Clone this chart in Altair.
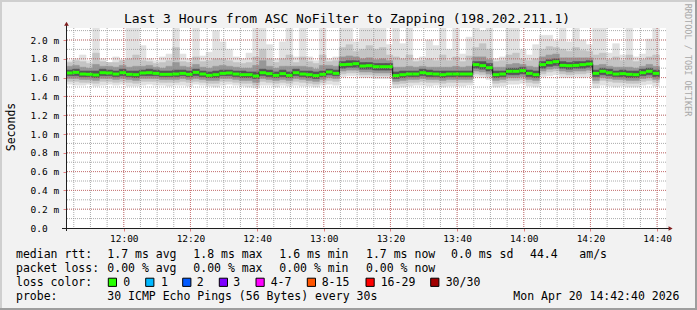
import altair as alt
import pandas as pd

# ---------------- data ----------------
START = "2026-04-20T11:42:40"
STEP_MIN = 2  # minutes per sample bin

# median RTT per bin (ms)
median = [
    1.649, 1.656, 1.638, 1.635, 1.628, 1.652, 1.649, 1.638, 1.652, 1.635,
    1.631, 1.649, 1.652, 1.645, 1.635, 1.635, 1.638, 1.645, 1.635, 1.656,
    1.638, 1.624, 1.631, 1.645, 1.649, 1.638, 1.631, 1.631, 1.617, 1.652,
    1.642, 1.624, 1.642, 1.624, 1.652, 1.638, 1.631, 1.621, 1.635, 1.660,
    1.645, 1.738, 1.741, 1.748, 1.723, 1.727, 1.716, 1.716, 1.716, 1.621,
    1.631, 1.638, 1.638, 1.652, 1.642, 1.638, 1.631, 1.638, 1.638, 1.638,
    1.638, 1.738, 1.727, 1.705, 1.631, 1.638, 1.667, 1.667, 1.674, 1.645,
    1.631, 1.738, 1.759, 1.770, 1.730, 1.727, 1.730, 1.738, 1.745, 1.645,
    1.667, 1.652, 1.638, 1.642, 1.635, 1.631, 1.652, 1.667, 1.645,
]
# smoke: max ping per bin (ms)
hi4 = [
    1.78, 1.80, 1.84, 1.78, 2.30, 1.80, 1.76, 1.82, 1.79, 2.30,
    2.30, 1.94, 1.80, 1.78, 1.82, 1.85, 2.30, 1.85, 1.80, 2.30,
    1.83, 1.87, 2.10, 1.98, 1.90, 1.82, 1.80, 1.86, 2.30, 2.30,
    1.95, 1.80, 1.98, 2.30, 1.82, 2.30, 1.82, 1.78, 2.30, 1.80,
    1.82, 2.30, 2.30, 1.98, 2.30, 2.30, 2.30, 2.30, 1.95, 2.30,
    1.96, 2.30, 1.80, 1.82, 2.00, 1.94, 2.30, 1.90, 2.30, 1.85,
    2.03, 2.30, 2.10, 2.30, 1.80, 1.82, 2.30, 2.30, 1.90, 1.84,
    1.95, 2.05, 2.05, 1.99, 2.30, 1.98, 2.30, 2.00, 1.95, 2.30,
    2.30, 1.86, 1.96, 1.84, 2.30, 1.82, 1.85, 2.01, 2.30,
]
hi3 = [
    1.76, 1.78, 1.77, 1.75, 1.86, 1.77, 1.76, 1.76, 1.78, 1.80,
    1.84, 1.78, 1.77, 1.75, 1.76, 1.78, 1.92, 1.77, 1.76, 1.82,
    1.77, 1.78, 1.80, 1.80, 1.78, 1.76, 1.75, 1.76, 1.82, 1.90,
    1.80, 1.76, 1.80, 1.84, 1.76, 1.82, 1.77, 1.75, 1.84, 1.77,
    1.78, 1.92, 1.95, 1.88, 1.90, 1.94, 1.90, 1.92, 1.84, 1.82,
    1.80, 1.84, 1.77, 1.78, 1.80, 1.78, 1.84, 1.78, 1.82, 1.77,
    1.83, 1.92, 1.96, 1.90, 1.77, 1.78, 1.84, 1.86, 1.80, 1.78,
    1.80, 1.90, 1.93, 1.92, 1.90, 1.88, 1.92, 1.89, 1.88, 1.84,
    1.86, 1.79, 1.82, 1.78, 1.84, 1.77, 1.79, 1.82, 1.84,
]
hi2 = [
    1.72, 1.73, 1.71, 1.70, 1.74, 1.72, 1.72, 1.71, 1.73, 1.71,
    1.72, 1.72, 1.73, 1.71, 1.70, 1.72, 1.76, 1.72, 1.71, 1.74,
    1.71, 1.70, 1.72, 1.73, 1.72, 1.71, 1.70, 1.70, 1.73, 1.78,
    1.72, 1.70, 1.72, 1.72, 1.72, 1.72, 1.71, 1.69, 1.73, 1.73,
    1.72, 1.82, 1.83, 1.82, 1.80, 1.81, 1.79, 1.80, 1.78, 1.71,
    1.71, 1.72, 1.71, 1.72, 1.71, 1.71, 1.71, 1.71, 1.72, 1.71,
    1.72, 1.82, 1.82, 1.79, 1.71, 1.71, 1.74, 1.75, 1.74, 1.72,
    1.71, 1.82, 1.84, 1.85, 1.81, 1.81, 1.81, 1.81, 1.81, 1.73,
    1.74, 1.72, 1.71, 1.71, 1.71, 1.70, 1.72, 1.74, 1.72,
]
hi1 = [
    1.68, 1.69, 1.67, 1.67, 1.67, 1.69, 1.68, 1.67, 1.69, 1.67,
    1.67, 1.68, 1.69, 1.68, 1.67, 1.67, 1.68, 1.68, 1.67, 1.69,
    1.67, 1.66, 1.67, 1.68, 1.68, 1.67, 1.67, 1.66, 1.66, 1.69,
    1.68, 1.66, 1.68, 1.66, 1.69, 1.67, 1.67, 1.66, 1.67, 1.69,
    1.68, 1.77, 1.78, 1.78, 1.76, 1.76, 1.75, 1.75, 1.75, 1.66,
    1.67, 1.67, 1.67, 1.69, 1.68, 1.67, 1.67, 1.67, 1.67, 1.67,
    1.67, 1.77, 1.77, 1.75, 1.67, 1.67, 1.70, 1.70, 1.71, 1.68,
    1.67, 1.77, 1.79, 1.80, 1.77, 1.76, 1.77, 1.77, 1.78, 1.68,
    1.70, 1.69, 1.67, 1.68, 1.67, 1.67, 1.69, 1.70, 1.68,
]
lo1 = [
    1.62, 1.62, 1.61, 1.61, 1.60, 1.62, 1.62, 1.61, 1.62, 1.61,
    1.60, 1.62, 1.62, 1.62, 1.61, 1.61, 1.61, 1.62, 1.61, 1.62,
    1.61, 1.60, 1.60, 1.62, 1.62, 1.61, 1.60, 1.60, 1.59, 1.62,
    1.61, 1.60, 1.61, 1.60, 1.62, 1.61, 1.60, 1.59, 1.61, 1.63,
    1.62, 1.70, 1.71, 1.71, 1.69, 1.69, 1.68, 1.68, 1.68, 1.59,
    1.60, 1.61, 1.61, 1.62, 1.61, 1.61, 1.60, 1.61, 1.61, 1.61,
    1.61, 1.70, 1.69, 1.67, 1.60, 1.61, 1.63, 1.63, 1.64, 1.61,
    1.60, 1.70, 1.72, 1.73, 1.70, 1.69, 1.70, 1.70, 1.71, 1.61,
    1.63, 1.62, 1.61, 1.61, 1.60, 1.60, 1.62, 1.63, 1.61,
]
lo2 = [
    1.59, 1.59, 1.58, 1.58, 1.57, 1.59, 1.59, 1.58, 1.59, 1.58,
    1.57, 1.59, 1.59, 1.59, 1.58, 1.58, 1.58, 1.59, 1.58, 1.59,
    1.58, 1.57, 1.57, 1.59, 1.59, 1.58, 1.57, 1.57, 1.55, 1.59,
    1.58, 1.57, 1.58, 1.57, 1.59, 1.58, 1.57, 1.56, 1.58, 1.60,
    1.59, 1.67, 1.68, 1.68, 1.66, 1.66, 1.65, 1.65, 1.65, 1.56,
    1.57, 1.58, 1.58, 1.59, 1.58, 1.58, 1.57, 1.58, 1.58, 1.58,
    1.58, 1.67, 1.66, 1.64, 1.57, 1.58, 1.60, 1.60, 1.61, 1.58,
    1.57, 1.67, 1.69, 1.70, 1.67, 1.66, 1.67, 1.67, 1.68, 1.57,
    1.60, 1.59, 1.58, 1.58, 1.57, 1.57, 1.59, 1.60, 1.58,
]
lo3 = [
    1.56, 1.56, 1.55, 1.55, 1.54, 1.56, 1.56, 1.55, 1.56, 1.55,
    1.54, 1.56, 1.56, 1.56, 1.55, 1.55, 1.55, 1.56, 1.55, 1.56,
    1.55, 1.54, 1.54, 1.56, 1.56, 1.55, 1.54, 1.54, 1.52, 1.56,
    1.55, 1.54, 1.55, 1.54, 1.56, 1.55, 1.54, 1.53, 1.55, 1.57,
    1.56, 1.64, 1.65, 1.65, 1.63, 1.63, 1.62, 1.62, 1.62, 1.53,
    1.54, 1.55, 1.55, 1.56, 1.55, 1.55, 1.54, 1.55, 1.55, 1.55,
    1.55, 1.64, 1.63, 1.61, 1.54, 1.55, 1.57, 1.57, 1.58, 1.55,
    1.54, 1.64, 1.66, 1.67, 1.64, 1.63, 1.64, 1.64, 1.65, 1.54,
    1.57, 1.56, 1.55, 1.55, 1.54, 1.54, 1.56, 1.57, 1.55,
]
lo4 = [
    1.53, 1.52, 1.52, 1.53, 1.51, 1.52, 1.53, 1.52, 1.53, 1.51,
    1.51, 1.52, 1.53, 1.52, 1.52, 1.51, 1.52, 1.52, 1.51, 1.53,
    1.52, 1.51, 1.50, 1.52, 1.53, 1.52, 1.51, 1.50, 1.49, 1.52,
    1.52, 1.50, 1.52, 1.51, 1.52, 1.51, 1.51, 1.50, 1.52, 1.53,
    1.52, 1.61, 1.62, 1.62, 1.60, 1.60, 1.59, 1.59, 1.59, 1.49,
    1.50, 1.51, 1.52, 1.52, 1.51, 1.52, 1.50, 1.51, 1.51, 1.51,
    1.52, 1.61, 1.60, 1.58, 1.50, 1.51, 1.53, 1.53, 1.54, 1.51,
    1.50, 1.61, 1.62, 1.63, 1.60, 1.60, 1.61, 1.60, 1.61, 1.49,
    1.52, 1.51, 1.50, 1.51, 1.50, 1.50, 1.52, 1.53, 1.51,
]

# axis ticks / grid
x_major = ["12:00", "12:20", "12:40", "13:00", "13:20", "13:40", "14:00", "14:20", "14:40"]
x_minor = ["11:45", "11:50", "11:55", "12:00", "12:05", "12:10", "12:15", "12:20", "12:25",
           "12:30", "12:35", "12:40", "12:45", "12:50", "12:55", "13:00", "13:05", "13:10",
           "13:15", "13:20", "13:25", "13:30", "13:35", "13:40", "13:45", "13:50", "13:55",
           "14:00", "14:05", "14:10", "14:15", "14:20", "14:25", "14:30", "14:35", "14:40"]
y_major = [0.0, 0.2, 0.4, 0.6, 0.8, 1.0, 1.2, 1.4, 1.6, 1.8, 2.0]
y_minor = [0.1, 0.2, 0.3, 0.4, 0.5, 0.6, 0.7, 0.8, 0.9, 1.0, 1.1,
           1.2, 1.3, 1.4, 1.5, 1.6, 1.7, 1.8, 1.9, 2.0, 2.1]

# texts
title_text = "Last 3 Hours from ASC NoFilter to Zapping (198.202.211.1)"
y_title = "Seconds"
watermark = "RRDTOOL / TOBI OETIKER"
row_heads = ["median rtt:", "packet loss:", "loss color:", "probe:"]
rtt_items = ["1.7 ms avg", "1.8 ms max", "1.6 ms min", "1.7 ms now", "0.0 ms sd", "44.4", "am/s"]
loss_items = ["0.00 % avg", "0.00 % max", "0.00 % min", "0.00 % now"]
loss_names = ["0", "1", "2", "3", "4-7", "8-15", "16-29", "30/30"]
loss_colors = ["#26ff00", "#00b8ff", "#0059ff", "#7e00ff", "#ff00ff", "#ff5500", "#ff0000", "#a10000"]
probe_text = "30 ICMP Echo Pings (56 Bytes) every 30s"
stamp_text = "Mon Apr 20 14:42:40 2026"

# ---------------- layout (page pixels) ----------------
OX, OY = 66, 28          # plot origin
W, H = 600, 200          # plot size
PX_PER_MS = 94.0
FONT = "DejaVu Sans Mono"
row_base = [258.3, 272.1, 285.9, 299.7]
head_x = 16
rtt_x = [107.3, 193.3, 279.3, 366, 451, 530, 579.3]
loss_x = [107.3, 193.3, 279.3, 366]
box_x = [108.3, 145.7, 182.7, 219.3, 256, 307.3, 366, 430.7]
name_x = [123.3, 161, 196.7, 233.3, 270.7, 321.7, 380.7, 445.7]
probe_x = 107.3
stamp_x = 513.3
box_top, box_size = 278.2, 8.2

# ---------------- frames ----------------
t_start = pd.Timestamp(START)
seg_rows = []
for i in range(len(median)):
    a = t_start + pd.Timedelta(minutes=STEP_MIN * i)
    b = a + pd.Timedelta(minutes=STEP_MIN)
    seg_rows.append({"t0": a.strftime("%Y-%m-%dT%H:%M:%S"),
                     "t1": b.strftime("%Y-%m-%dT%H:%M:%S"), "o": i,
                     "med": median[i], "lo1": lo1[i], "hi1": hi1[i],
                     "lo2": lo2[i], "hi2": hi2[i], "lo3": lo3[i], "hi3": hi3[i],
                     "lo4": lo4[i], "hi4": hi4[i]})
segs = pd.DataFrame(seg_rows)


def iso(hm):
    return f"2026-04-20T{hm}:00"


def dt(hm, s=0):
    h, m = hm.split(":")
    return alt.DateTime(year=2026, month=4, date=20, hours=int(h), minutes=int(m), seconds=s)


xminor_df = pd.DataFrame({"g": [iso(s) for s in x_minor]})
xmajor_df = pd.DataFrame({"g": [iso(s) for s in x_major]})
yminor_df = pd.DataFrame({"g": y_minor})
ymajor_df = pd.DataFrame({"g": [v for v in y_major if v > 0]})

x_scale = alt.Scale(domain=[dt("11:42", 40), dt("14:42", 40)])
y_scale = alt.Scale(domain=[0, H / PX_PER_MS], nice=False, zero=False)
x_axis = alt.Axis(values=[dt(s) for s in x_major], format="%H:%M", title=None,
                  domain=False, grid=False, tickSize=3, tickColor="rgba(222,79,79,0.7)",
                  labelFont=FONT, labelFontSize=9.5, labelColor="#000000",
                  labelPadding=10.5, labelBaseline="alphabetic",
                  labelFlush=False, labelOverlap=False)
y_axis = alt.Axis(values=y_major, title=None, domain=False, grid=False,
                  labelExpr="datum.value == 0 ? '0.0' : format(datum.value, '.1f') + ' m'",
                  tickSize=3, tickColor="rgba(222,79,79,0.7)",
                  labelFont=FONT, labelFontSize=9.5, labelColor="#000000",
                  labelAlign="left", labelPadding=33, labelBaseline="middle",
                  labelFlush=False, labelOverlap=False)


def X(f):
    return alt.X(f, type="temporal", scale=x_scale, axis=x_axis)


def Y(f):
    return alt.Y(f, type="quantitative", scale=y_scale, axis=y_axis)


def band(lo, hi, color):
    # one rectangle per sample bin; a thin stroke of the same colour hides seams
    return alt.Chart(segs).mark_rect(color=color, stroke=color, strokeWidth=0.6, clip=True).encode(
        x=X("t0"), x2=alt.X2("t1"), y=Y(lo), y2=alt.Y2(hi))


grid_minor = "rgba(143,143,143,0.75)"
grid_major = "rgba(222,79,79,0.6)"

main = alt.layer(
    band("lo4", "hi4", "#e1e1e1"),
    band("lo3", "hi3", "#c4c4c4"),
    band("lo2", "hi2", "#979797"),
    band("lo1", "hi1", "#555555"),
    alt.Chart(xminor_df).mark_rule(color=grid_minor, strokeDash=[1, 1], strokeWidth=1).encode(x=X("g")),
    alt.Chart(yminor_df).mark_rule(color=grid_minor, strokeDash=[1, 1], strokeWidth=1).encode(y=Y("g")),
    alt.Chart(xmajor_df).mark_rule(color=grid_major, strokeDash=[1, 1], strokeWidth=1).encode(x=X("g")),
    alt.Chart(ymajor_df).mark_rule(color=grid_major, strokeDash=[1, 1], strokeWidth=1).encode(y=Y("g")),
    alt.Chart(segs).mark_line(color="#1a1a1a", strokeWidth=1, interpolate="step-after", clip=True).encode(
        x=X("t0"), y=Y("med"), order=alt.Order("o:Q")),
    alt.Chart(segs).mark_rule(color=loss_colors[0], strokeWidth=3, strokeCap="butt", clip=True).encode(
        x=X("t0"), x2=alt.X2("t1"), y=Y("med")),
)

# ---------------- annotation layer in pixel space ----------------
px_scale = alt.Scale(domain=[0, W], range=[0, W], nice=False, zero=False)
py_scale = alt.Scale(domain=[0, H], range=[0, H], nice=False, zero=False)


def PX(f):
    return alt.X(f, type="quantitative", scale=px_scale, axis=None)


def PY(f):
    return alt.Y(f, type="quantitative", scale=py_scale, axis=None)


txt = []
for r, head in enumerate(row_heads):
    txt.append({"text": head, "x": head_x - OX, "y": row_base[r] - OY})
for s, x in zip(rtt_items, rtt_x):
    txt.append({"text": s, "x": x - OX, "y": row_base[0] - OY})
for s, x in zip(loss_items, loss_x):
    txt.append({"text": s, "x": x - OX, "y": row_base[1] - OY})
for s, x in zip(loss_names, name_x):
    txt.append({"text": s, "x": x - OX, "y": row_base[2] - OY})
txt.append({"text": probe_text, "x": probe_x - OX, "y": row_base[3] - OY})
txt.append({"text": stamp_text, "x": stamp_x - OX, "y": row_base[3] - OY})
txt_df = pd.DataFrame(txt)

box_df = pd.DataFrame({
    "x": [b - OX for b in box_x], "x2": [b + box_size - OX for b in box_x],
    "y": [box_top - OY] * len(box_x), "y2": [box_top + box_size - OY] * len(box_x),
    "c": loss_colors})

W_TOTAL, H_TOTAL = 697, 310
frame_df = pd.DataFrame({
    "x": [-OX, -OX, -OX, W_TOTAL - OX - 2],
    "x2": [W_TOTAL - OX, -OX + 2, W_TOTAL - OX, W_TOTAL - OX],
    "y": [-OY, -OY, H_TOTAL - OY - 2, -OY],
    "y2": [-OY + 2, H_TOTAL - OY, H_TOTAL - OY, H_TOTAL - OY],
    "c": ["#cfcfcf", "#cfcfcf", "#9e9e9e", "#9e9e9e"]})

axis_df = pd.DataFrame({"x": [-4, 0.5], "x2": [603, 0.5], "y": [200.5, 203], "y2": [200.5, -3]})
arrow_df = pd.DataFrame({"x": [604.6, 0.5], "y": [200.5, -4.2], "s": ["triangle-right", "triangle-up"]})

one = pd.DataFrame({"k": [0]})

annot = alt.layer(
    alt.Chart(frame_df).mark_rect().encode(x=PX("x"), x2="x2", y=PY("y"), y2="y2",
                                           color=alt.Color("c:N", scale=None)),
    alt.Chart(axis_df).mark_rule(color="#1f1f1f", strokeWidth=1).encode(x=PX("x"), x2="x2", y=PY("y"), y2="y2"),
    alt.Chart(arrow_df).mark_point(filled=True, size=22, color="#801f1f", opacity=1).encode(
        x=PX("x"), y=PY("y"), shape=alt.Shape("s:N", scale=None)),
    alt.Chart(txt_df).mark_text(align="left", baseline="alphabetic", font=FONT, fontSize=11.5,
                                color="#000000").encode(x=PX("x"), y=PY("y"), text="text:N"),
    alt.Chart(box_df).mark_rect(stroke="#000000", strokeWidth=1).encode(
        x=PX("x"), x2="x2", y=PY("y"), y2="y2", color=alt.Color("c:N", scale=None)),
    alt.Chart(one).mark_text(text=title_text, align="center", baseline="alphabetic", font=FONT,
                             fontSize=13, color="#000000").encode(
        x=alt.value(347.0 - OX), y=alt.value(23.0 - OY)),
    alt.Chart(one).mark_text(text=y_title, align="center", baseline="alphabetic", font=FONT,
                             fontSize=11.5, angle=270, color="#000000").encode(
        x=alt.value(15.0 - OX), y=alt.value(127.0 - OY)),
    alt.Chart(one).mark_text(text=watermark, align="center", baseline="alphabetic", font=FONT,
                             fontSize=8.5, angle=90, color="#a8a8a8").encode(
        x=alt.value(685.0 - OX), y=alt.value(60.0 - OY)),
)

chart = alt.layer(main, annot).resolve_scale(
    x="independent", y="independent"
).properties(
    width=W, height=H,
    autosize=alt.AutoSizeParams(type="none"),
    padding={"left": OX, "top": OY, "right": W_TOTAL - OX - W, "bottom": H_TOTAL - OY - H},
    background="#f2f2f2",
).configure_view(fill="white", strokeWidth=0)

chart.save("out.html", embed_options={"renderer": "svg", "actions": False})
